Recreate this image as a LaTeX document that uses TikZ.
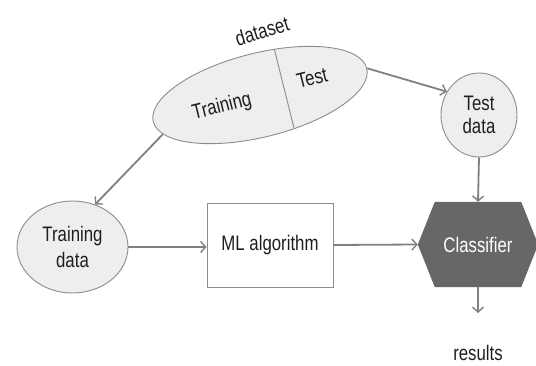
\documentclass[tikz,border=0pt]{standalone}
\usepackage{fontspec}
\setmainfont[FakeStretch=0.8]{Liberation Sans}
\usetikzlibrary{arrows.meta,shapes.geometric,backgrounds,calc}
\definecolor{linegray}{HTML}{808080}
\definecolor{bordergray}{HTML}{8C8C8C}
\definecolor{fillgray}{HTML}{EEEEEE}
\definecolor{hexgray}{HTML}{676767}
\definecolor{txt}{HTML}{1E1E1E}
\begin{document}
\begin{tikzpicture}[x=1pt,y=1pt,
  every node/.style={font=\fontsize{21}{23}\selectfont, inner sep=0pt, text=txt},
  blob/.style={ellipse, draw=bordergray, fill=fillgray, line width=0.9pt},
  conn/.style={draw=linegray, line width=1.8pt, -{Straight Barb[length=5pt,width=11pt,line width=1.4pt]}},
]
\useasboundingbox (0,0) rectangle (536,365);
% dataset ellipse
\node[blob, minimum width=220, minimum height=84, rotate=14] (ds) at (260,270) {};
\begin{scope}[shift={(ds.center)}, rotate=14]
  \draw[bordergray, line width=0.9pt] (25,-41) -- (25,41);
\end{scope}
\node[rotate=14] (trn) at (222,258) {Training};
\node[rotate=14] (tsp) at (312,287) {Test};
\node[rotate=17] (dsl) at (262,334) {dataset};
% other nodes
\node[blob, minimum width=111, minimum height=92, align=center] (td) at (72.5,118) {Training\\[3pt]data};
\node[blob, minimum width=76, minimum height=84, align=center] (tst) at (479,250) {Test\\data};
\node[draw=bordergray, fill=white, line width=0.9pt, minimum width=126, minimum height=84] (ml) at (270,120) {ML algorithm};
\node[minimum width=120, minimum height=85, text=white] (cls) at (478,120.5) {Classifier};
\begin{pgfonlayer}{background}
  \fill[hexgray] (cls.west) -- ([xshift=17pt]cls.north west) -- ([xshift=-17pt]cls.north east)
    -- (cls.east) -- ([xshift=-17pt]cls.south east) -- ([xshift=17pt]cls.south west) -- cycle;
\end{pgfonlayer}
\coordinate (res) at (478,52);
\node[anchor=base] (results) at (478,5) {results};
% connectors
\draw[conn] (ds.188) -- (td.62);
\draw[conn] (ds.east) -- (tst.144);
\draw[conn] (td.east) -- (td.east -| ml.west);
\draw[conn] (ml.east) -- (cls.west);
\draw[conn] (tst.south) -- (cls.north);
\draw[conn] (cls.south) -- (res);
\end{tikzpicture}
\end{document}
